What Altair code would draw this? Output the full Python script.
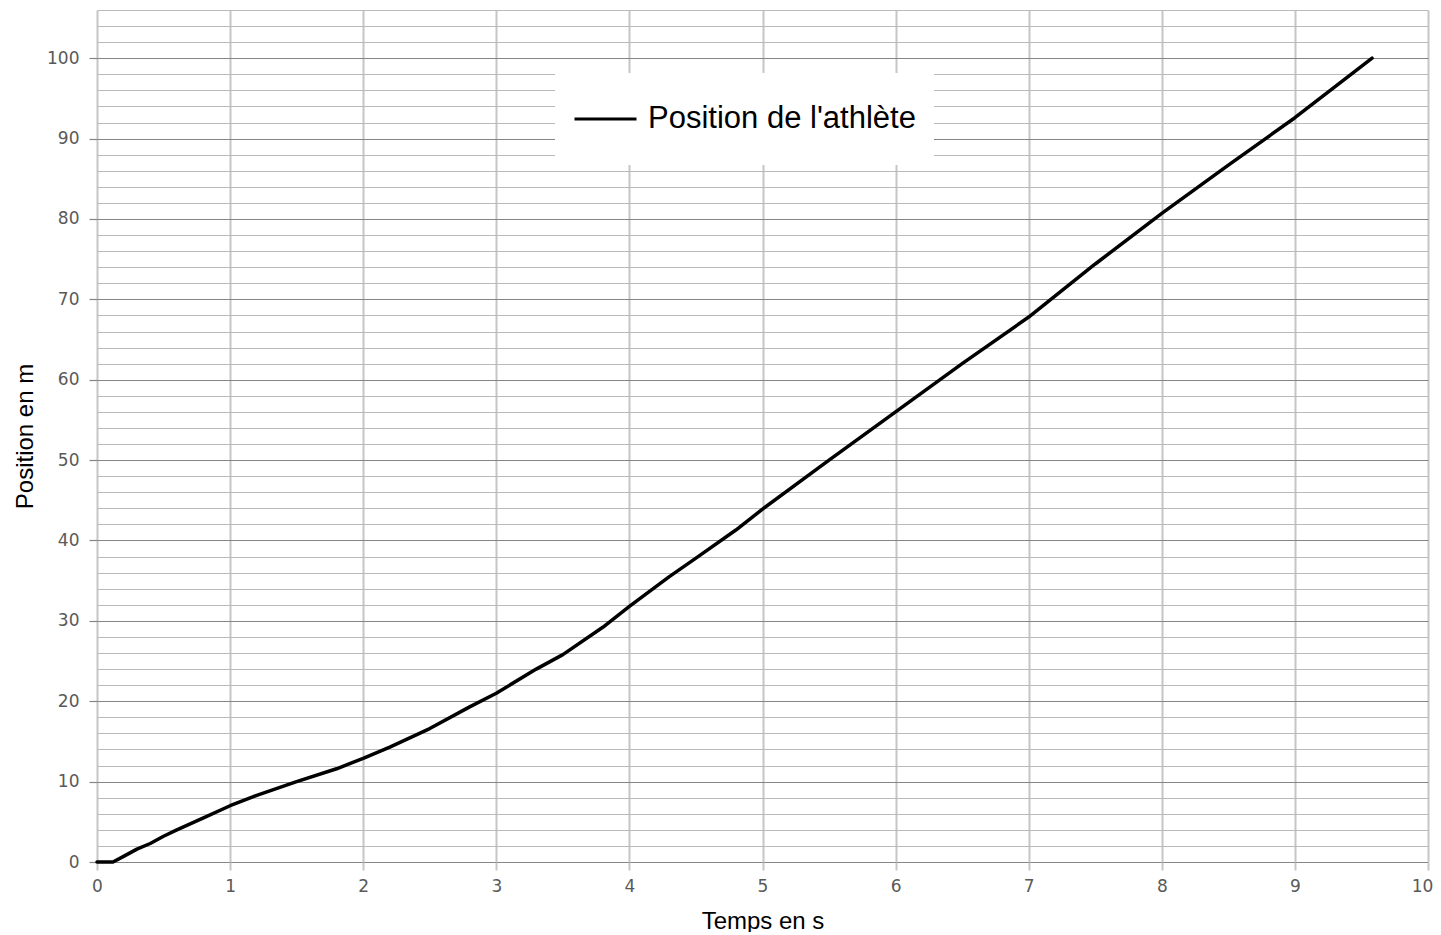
import altair as alt
import pandas as pd

# Temps (s) et position (m)
temps = [0, 0.12, 0.2, 0.3, 0.4, 0.5, 0.6, 0.8, 1.0, 1.2, 1.5, 1.8, 2.0, 2.2, 2.5,
         2.8, 3.0, 3.3, 3.5, 3.8, 4.0, 4.3, 4.5, 4.8, 5.0, 5.5, 6.0, 6.5, 7.0,
         7.5, 8.0, 8.5, 9.0, 9.58]
position = [0, 0, 0.7, 1.6, 2.3, 3.2, 4.0, 5.5, 7.0, 8.3, 10.0, 11.6, 12.9, 14.3, 16.6,
            19.3, 21.0, 24.0, 25.8, 29.2, 31.8, 35.5, 37.8, 41.3, 43.9, 50.0, 56.0, 62.0, 67.8,
            74.4, 80.7, 86.7, 92.6, 100.0]
serie = "Position de l'athlète"

x_ticks = list(range(0, 11))
y_grid = list(range(0, 107, 2))

df = pd.DataFrame({"t": temps, "p": position, "serie": [serie] * len(temps)})

axis_font = "DejaVu Sans"
title_font = "Liberation Sans"

chart = alt.Chart(df).mark_line(strokeWidth=3.5, strokeJoin="round", strokeCap="round").encode(
    x=alt.X("t:Q",
            scale=alt.Scale(domain=[0, 10], nice=False, zero=False),
            axis=alt.Axis(values=x_ticks, title="Temps en s", grid=True,
                          gridColor="#c6c6c6", gridWidth=2, domain=False,
                          tickColor="#c6c6c6", tickSize=8, tickWidth=2,
                          labelFont=axis_font, labelFontSize=17, labelColor="#595959",
                          labelPadding=8, labelFlush=False,
                          labelOffset={"condition": {"test": "datum.value === 10", "value": -6},
                                       "value": 0},
                          titleFont=title_font, titleFontSize=24,
                          titleFontWeight="normal", titleColor="#000000", titlePadding=15)),
    y=alt.Y("p:Q",
            scale=alt.Scale(domain=[0, 106], nice=False, zero=False),
            axis=alt.Axis(values=y_grid, title="Position en m", grid=True,
                          gridColor={"condition": {"test": "datum.value % 10 === 0", "value": "#858585"},
                                     "value": "#bababa"},
                          gridWidth=1.2, domain=False,
                          tickColor="#858585", tickSize=8, tickWidth=1.2,
                          tickOpacity={"condition": {"test": "datum.value % 10 === 0", "value": 1},
                                       "value": 0},
                          labelExpr="datum.value % 10 === 0 ? datum.label : ''",
                          labelFont=axis_font, labelFontSize=17, labelColor="#595959",
                          labelPadding=10, labelFlush=False,
                          titleFont=title_font, titleFontSize=24,
                          titleFontWeight="normal", titleColor="#000000", titlePadding=9)),
    color=alt.Color("serie:N", scale=alt.Scale(range=["#000000"]),
                    legend=alt.Legend(title=None, orient="none", legendX=458, legendY=63,
                                      symbolType="stroke", symbolSize=3844, symbolStrokeWidth=3,
                                      labelFont=title_font, labelFontSize=31, labelColor="#000000",
                                      labelOffset=10, labelLimit=600, fillColor="white",
                                      clipHeight=56, padding=18)),
).properties(
    width=1331, height=852,
    autosize=alt.AutoSizeParams(type="none"),
    padding={"left": 89, "top": 2, "right": 5, "bottom": 70},
    background="white",
).configure_view(stroke=None)

chart.save("out.html", embed_options={"renderer": "svg", "actions": False})
